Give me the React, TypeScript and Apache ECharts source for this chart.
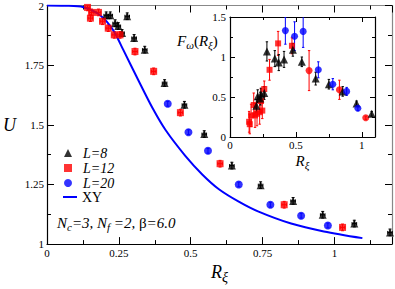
import React, { useEffect, useRef } from 'react';
import * as echarts from 'echarts';

const FONT = 'Liberation Serif';

// ---- main plot: [R_xi, U] ----
const l8Main = [
  [0.206, 1.959], [0.22, 1.959], [0.237, 1.926], [0.248, 1.914], [0.261, 1.885],
  [0.279, 1.955], [0.303, 1.864], [0.34, 1.815], [0.409, 1.675], [0.478, 1.584],
  [0.547, 1.461], [0.643, 1.329], [0.743, 1.247], [0.856, 1.181], [0.959, 1.123],
  [1.069, 1.086], [1.193, 1.049],
];
const l12Main = [
  [0.141, 1.992], [0.151, 1.947], [0.155, 1.971], [0.179, 1.971], [0.193, 1.934],
  [0.213, 1.905], [0.234, 1.877], [0.254, 1.877], [0.306, 1.807], [0.371, 1.724],
  [0.464, 1.551], [0.602, 1.337], [0.825, 1.165], [1.028, 1.07],
];
const l20Main = [
  [0.42, 1.588], [0.492, 1.469], [0.56, 1.391], [0.667, 1.25], [0.777, 1.165],
  [0.884, 1.119], [0.977, 1.078],
];
const xyR = [0, 0.06, 0.127, 0.185, 0.23, 0.265, 0.316, 0.368, 0.413, 0.481, 0.54, 0.598, 0.667, 0.736, 0.849, 0.963, 1.097];
const xyU = [2, 1.999, 1.993, 1.959, 1.897, 1.815, 1.691, 1.568, 1.477, 1.37, 1.292, 1.23, 1.178, 1.136, 1.086, 1.053, 1.025];

// ---- inset: [R_xi, F_omega, error] ----
const l8Inset = [
  [0.2, 0.39, 0.08], [0.21, 0.51, 0.08], [0.23, 0.48, 0.08], [0.235, 0.53, 0.08], [0.26, 0.55, 0.08],
  [0.28, 1.07, 0.12], [0.34, 0.98, 0.1], [0.37, 0.93, 0.1], [0.41, 0.97, 0.1], [0.477, 1.09, 0.08],
  [0.545, 0.94, 0.06], [0.65, 0.73, 0.08], [0.75, 0.66, 0.06], [0.855, 0.57, 0.06], [0.96, 0.42, 0.03],
  [1.075, 0.29, 0.03],
];
const l12InsetSquare = [
  [0.145, 0.19, 0.13], [0.15, 0.16, 0.12], [0.16, 0.27, 0.14], [0.18, 0.4, 0.15], [0.19, 0.27, 0.15],
  [0.205, 0.29, 0.15], [0.225, 0.31, 0.15], [0.235, 0.45, 0.15], [0.245, 0.33, 0.1], [0.26, 0.6, 0.1],
  [0.3, 0.84, 0.13], [0.365, 1.17, 0.15], [0.47, 1.14, 0.1],
];
const l12InsetCircle = [[0.6, 0.83, 0.25], [0.83, 0.59, 0.12], [1.03, 0.24, 0.02]];
const l20Inset = [
  [0.42, 1.33, 0.17], [0.49, 1.26, 0.18], [0.555, 1.32, 0.2], [0.67, 0.84, 0.1],
  [0.78, 0.66, 0.07], [0.885, 0.57, 0.05], [0.97, 0.36, 0.03],
];

const BLACK = '#000000';
const RED = '#ff0000';
const BLUE = '#0000ff';

function errorBars(data: number[][], color: string, axis: number, cap: number) {
  return {
    type: 'custom',
    xAxisIndex: axis,
    yAxisIndex: axis,
    clip: true,
    silent: true,
    z: 1,
    data,
    encode: { x: 0, y: 1 },
    renderItem: (_p: any, api: any) => {
      const x = api.value(0);
      const y = api.value(1);
      const ey = api.value(2);
      const ex = api.value(3) || 0;
      const st = { stroke: color, lineWidth: 1 };
      const lo = api.coord([x, y - ey]);
      const hi = api.coord([x, y + ey]);
      const children: any[] = [
        { type: 'line', shape: { x1: lo[0], y1: lo[1], x2: hi[0], y2: hi[1] }, style: st },
        { type: 'line', shape: { x1: lo[0] - cap, y1: lo[1], x2: lo[0] + cap, y2: lo[1] }, style: st },
        { type: 'line', shape: { x1: hi[0] - cap, y1: hi[1], x2: hi[0] + cap, y2: hi[1] }, style: st },
      ];
      if (ex) {
        const l = api.coord([x - ex, y]);
        const r = api.coord([x + ex, y]);
        children.push(
          { type: 'line', shape: { x1: l[0], y1: l[1], x2: r[0], y2: r[1] }, style: st },
          { type: 'line', shape: { x1: l[0], y1: l[1] - cap, x2: l[0], y2: l[1] + cap }, style: st },
          { type: 'line', shape: { x1: r[0], y1: r[1] - cap, x2: r[0], y2: r[1] + cap }, style: st },
        );
      }
      return { type: 'group', children };
    },
  };
}

const rich = (size: number) => ({
  i: { fontFamily: FONT, fontStyle: 'italic', fontSize: size, color: '#000' },
  n: { fontFamily: FONT, fontSize: size, color: '#000' },
  s: { fontFamily: FONT, fontStyle: 'italic', fontSize: Math.round(size * 0.75), color: '#000', padding: [Math.round(size * 0.55), 0, 0, 0] },
  b: { fontFamily: FONT, fontSize: size, color: '#000' },
});

function axis(kind: 'x' | 'y', grid: number, pos: string, min: number, max: number, interval: number,
  showLabel: boolean, lineColor: string, major: number, minor: number, margin: number, extra: any = {}) {
  return {
    type: 'value',
    gridIndex: grid,
    position: pos,
    min, max, interval,
    axisLine: { show: true, onZero: false, lineStyle: { color: lineColor, width: 1.2 } },
    axisTick: { show: true, inside: true, length: major, lineStyle: { color: '#000', width: 1 } },
    minorTick: { show: true, splitNumber: 2, length: minor, lineStyle: { color: '#000', width: 1 } },
    splitLine: { show: false },
    minorSplitLine: { show: false },
    axisLabel: {
      show: showLabel, fontFamily: FONT, fontSize: 11, color: '#000', margin,
      showMaxLabel: kind === 'x' && max % interval !== 0 ? false : true,
    },
    ...extra,
  };
}

const legendText = {
  rich: {
    i: { fontFamily: FONT, fontStyle: 'italic', fontSize: 14, lineHeight: 14, color: '#000' },
    n: { fontFamily: FONT, fontSize: 14, lineHeight: 14, color: '#000' },
  },
};

export default function App() {
  const ref = useRef<HTMLDivElement>(null);
  useEffect(() => {
    if (!ref.current) return;
    const chart = echarts.init(ref.current, null, { renderer: 'svg' });
    const withErr = (d: number[][], ey: number, ex: number) => d.map(([x, y]) => [x, y, ey, ex]);
    const option: any = {
      animation: false,
      backgroundColor: '#ffffff',
      grid: [
        { left: 43, top: 5, width: 349, height: 244, show: false },
        { left: 230, top: 17, width: 145, height: 120, show: true, backgroundColor: '#ffffff', borderWidth: 0 },
      ],
      xAxis: [
        axis('x', 0, 'bottom', 0, 1.2, 0.25, true, '#000', 7, 4, 3, {
          name: '{i|R}{s|ξ}', nameLocation: 'middle', nameGap: 12,
          nameTextStyle: { rich: rich(18) },
        }),
        axis('x', 0, 'top', 0, 1.2, 0.25, false, '#888', 7, 4, 3),
        axis('x', 1, 'bottom', 0, 1.1, 0.5, true, '#000', 5, 3, 2, {
          name: '{i|R}{s|ξ}', nameLocation: 'middle', nameGap: 14,
          nameTextStyle: { rich: rich(15) },
        }),
        axis('x', 1, 'top', 0, 1.1, 0.5, false, '#000', 5, 3, 2),
      ],
      yAxis: [
        axis('y', 0, 'left', 1, 2, 0.25, true, '#000', 7, 4, 3, {
          name: '{i|U}', nameLocation: 'middle', nameGap: 31, nameRotate: 0,
          nameTextStyle: { rich: rich(18) },
        }),
        axis('y', 0, 'right', 1, 2, 0.25, false, '#888', 7, 4, 3),
        axis('y', 1, 'left', 0, 1.5, 0.5, true, '#000', 5, 3, 4),
        axis('y', 1, 'right', 0, 1.5, 0.5, false, '#000', 5, 3, 4),
      ],
      legend: [
        {
          left: 64, top: 146, padding: 0, orient: 'vertical', itemWidth: 8, itemHeight: 8, itemGap: 1,
          selectedMode: false,
          data: [
            { name: 'L=8', icon: 'triangle' },
            { name: 'L=12', icon: 'rect' },
            { name: 'L=20', icon: 'circle' },
          ],
          formatter: (n: string) => `{i|${n}}`,
          textStyle: { ...legendText, padding: [0, 0, 0, 6] },
        },
        {
          left: 63, top: 190, padding: 0, orient: 'vertical', itemWidth: 14, itemHeight: 2, itemGap: 0,
          selectedMode: false,
          data: [{ name: 'XY', icon: 'rect' }],
          formatter: () => `{n|XY}`,
          textStyle: { ...legendText },
        },
      ],
      graphic: [
        {
          type: 'text', left: 57, top: 215, z: 10,
          style: {
            text: '{i|N}{s|c}{i|=3, N}{s|f}{i| =2, }{b|β}{i|=6.0}',
            rich: rich(15),
          },
        },
        {
          type: 'text', left: 177, top: 33, z: 10,
          style: {
            text: '{i|F}{s|ω}{n|(}{i|R}{s|ξ}{n|)}',
            rich: rich(15),
          },
        },
      ],
      series: [
        {
          name: 'XY', type: 'line', xAxisIndex: 0, yAxisIndex: 0,
          data: xyR.map((x, i) => [x, xyU[i]]),
          symbol: 'none', showSymbol: false, smooth: 0.3,
          lineStyle: { color: BLUE, width: 2 }, itemStyle: { color: BLUE }, z: 2,
        },
        errorBars(withErr(l8Main, 0.014, 0.008), BLACK, 0, 1.5),
        errorBars(withErr(l12Main, 0.014, 0.008), RED, 0, 1.5),
        errorBars(withErr(l20Main, 0.01, 0), BLUE, 0, 1.5),
        { name: 'L=8', type: 'scatter', xAxisIndex: 0, yAxisIndex: 0, data: l8Main, symbol: 'triangle', symbolSize: 8, itemStyle: { color: BLACK }, z: 3 },
        { name: 'L=12', type: 'scatter', xAxisIndex: 0, yAxisIndex: 0, data: l12Main, symbol: 'rect', symbolSize: 7, itemStyle: { color: RED }, z: 3 },
        { name: 'L=20', type: 'scatter', xAxisIndex: 0, yAxisIndex: 0, data: l20Main, symbol: 'circle', symbolSize: 8, itemStyle: { color: BLUE }, z: 3 },

        errorBars(l12InsetSquare, RED, 2, 1.2),
        errorBars(l12InsetCircle, RED, 2, 1.2),
        errorBars(l8Inset, BLACK, 2, 1.2),
        errorBars(l20Inset, BLUE, 2, 1.2),
        { name: 'inset L=12', type: 'scatter', xAxisIndex: 2, yAxisIndex: 2, data: l12InsetSquare.map((d) => [d[0], d[1]]), symbol: 'rect', symbolSize: 6, itemStyle: { color: RED }, z: 3 },
        { name: 'inset L=12 c', type: 'scatter', xAxisIndex: 2, yAxisIndex: 2, data: l12InsetCircle.map((d) => [d[0], d[1]]), symbol: 'circle', symbolSize: 7, itemStyle: { color: RED }, z: 3 },
        { name: 'inset L=8', type: 'scatter', xAxisIndex: 2, yAxisIndex: 2, data: l8Inset.map((d) => [d[0], d[1]]), symbol: 'triangle', symbolSize: 8, itemStyle: { color: BLACK }, z: 3 },
        { name: 'inset L=20', type: 'scatter', xAxisIndex: 2, yAxisIndex: 2, data: l20Inset.map((d) => [d[0], d[1]]), symbol: 'circle', symbolSize: 7, itemStyle: { color: BLUE }, z: 3 },
      ],
    };
    chart.setOption(option);
    return () => chart.dispose();
  }, []);
  return <div ref={ref} style={{ position: 'absolute', left: 0, top: 0, width: 395, height: 289 }} />;
}
